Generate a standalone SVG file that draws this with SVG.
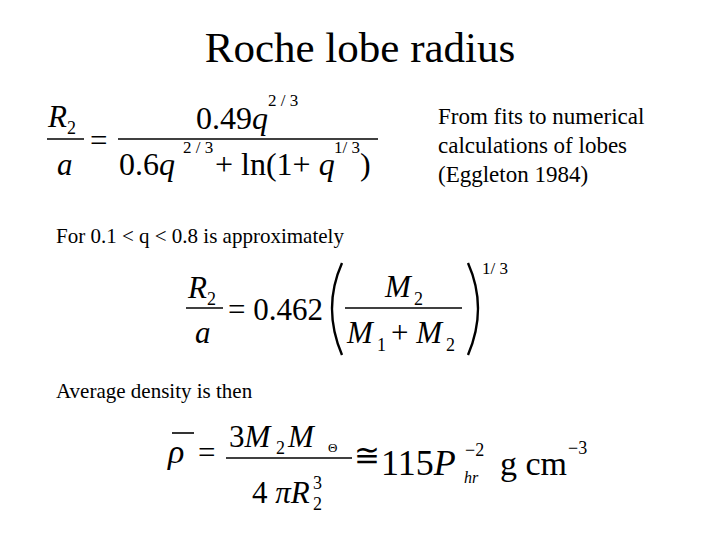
<svg xmlns="http://www.w3.org/2000/svg" width="720" height="540" viewBox="0 0 720 540" font-family="'Liberation Serif', 'Times New Roman', 'DejaVu Serif', serif">
<style>
.i{font-style:italic}
.ln{stroke:#000;stroke-width:1.6;fill:none}
</style>
<rect width="720" height="540" fill="#fff"/>
<g id="title"><text x="360" y="62" font-size="43" text-anchor="middle">Roche lobe radius</text></g>
<g id="note">
<text x="438" y="124" font-size="23">From fits to numerical</text>
<text x="438" y="153" font-size="23">calculations of lobes</text>
<text x="438" y="182" font-size="23">(Eggleton 1984)</text>
</g>
<g id="eq1">
<text x="48" y="127" font-size="31" class="i">R</text><text x="67" y="134" font-size="18">2</text>
<line class="ln" x1="47" y1="139" x2="84" y2="139"/>
<text x="57" y="175" font-size="31" class="i">a</text>
<text x="90" y="151" font-size="31">=</text>
<text x="196" y="129" font-size="32">0.49<tspan class="i">q</tspan></text>
<text x="268" y="106" font-size="17">2 / 3</text>
<line class="ln" x1="118" y1="139" x2="378" y2="139"/>
<text x="119" y="175" font-size="32">0.6<tspan class="i">q</tspan></text>
<text x="183" y="153" font-size="17">2 / 3</text>
<text x="215" y="175" font-size="32">+ ln(1+ <tspan class="i">q</tspan></text>
<text x="334" y="153" font-size="17">1/ 3</text>
<text x="360" y="175" font-size="32">)</text>
</g>
<g id="line2"><text x="56" y="243" font-size="21">For 0.1 &lt; q &lt; 0.8 is approximately</text></g>
<g id="eq2">
<text x="188" y="298" font-size="31" class="i">R</text><text x="207" y="305" font-size="18">2</text>
<line class="ln" x1="186" y1="308" x2="223" y2="308"/>
<text x="195" y="343" font-size="31" class="i">a</text>
<text x="228" y="320" font-size="31">= 0.462</text>
<path d="M342 263 Q322 308 342 355" stroke="#000" stroke-width="2.4" fill="none"/>
<text x="385" y="297" font-size="31" class="i">M</text><text x="414" y="305" font-size="18">2</text>
<line class="ln" x1="345" y1="308" x2="462" y2="308"/>
<text x="347" y="343" font-size="31" class="i">M</text><text x="377" y="351" font-size="18">1</text>
<text x="391" y="343" font-size="31">+ <tspan class="i">M</tspan></text><text x="446" y="351" font-size="18">2</text>
<path d="M468 263 Q488 308 468 355" stroke="#000" stroke-width="2.4" fill="none"/>
<text x="482" y="274" font-size="17">1/ 3</text>
</g>
<g id="line3"><text x="56" y="398" font-size="21">Average density is then</text></g>
<g id="eq3">
<line class="ln" x1="172" y1="433" x2="194" y2="433"/>
<text x="168" y="463" font-size="34" class="i">ρ</text>
<text x="198" y="463" font-size="31">=</text>
<text x="229" y="447" font-size="31">3<tspan class="i">M</tspan></text><text x="276" y="454" font-size="18">2</text>
<text x="288" y="447" font-size="31" class="i">M</text><text x="328" y="452" font-size="13">Θ</text>
<line class="ln" x1="226" y1="458" x2="352" y2="458"/>
<text x="252" y="503" font-size="31">4 <tspan class="i">πR</tspan></text>
<text x="313" y="489" font-size="18">3</text><text x="313" y="510" font-size="18">2</text>
<text x="354" y="466" font-size="31">≅</text>
<text x="381" y="475" font-size="36">115<tspan class="i">P</tspan></text>
<text x="465" y="456" font-size="18">−2</text>
<text x="464" y="483" font-size="16" class="i">hr</text>
<text x="500" y="475" font-size="34">g cm</text>
<text x="568" y="454" font-size="18">−3</text>
</g>
</svg>
